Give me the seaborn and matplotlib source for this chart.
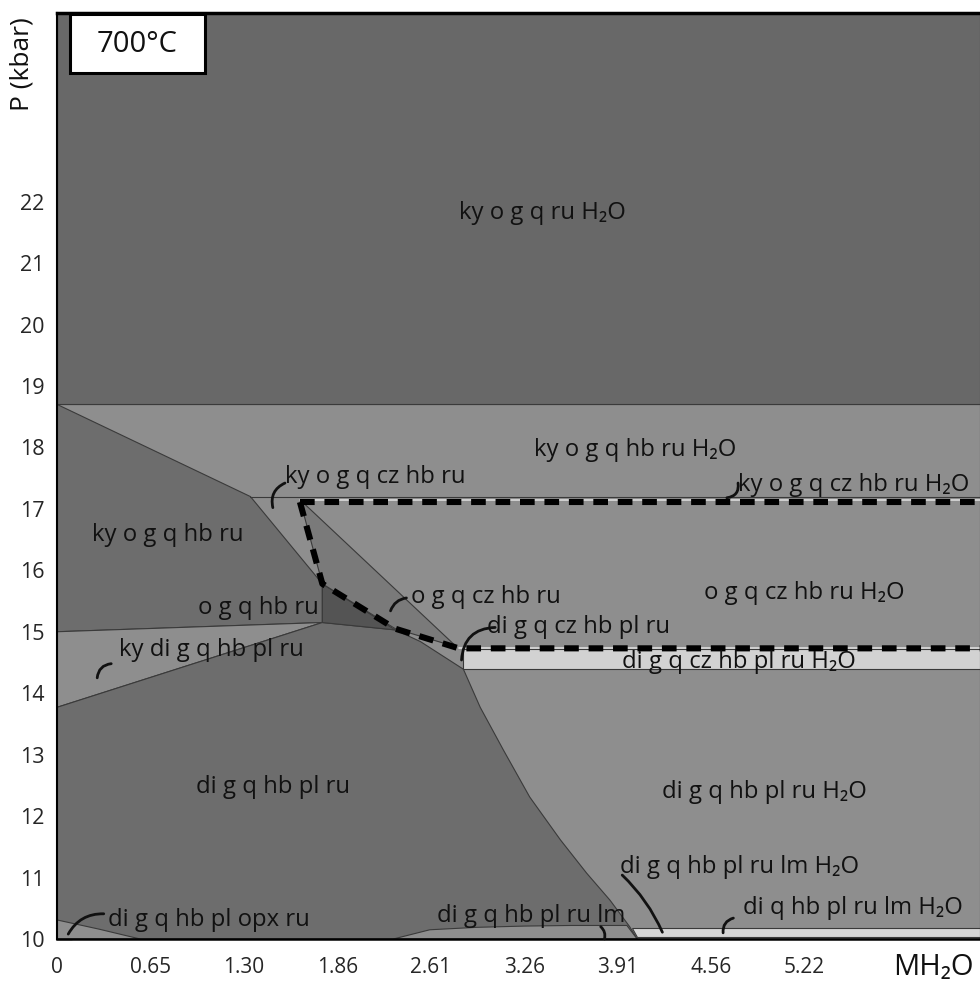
import numpy as np
import pandas as pd
import matplotlib
matplotlib.use("Agg")
import matplotlib.pyplot as plt
from matplotlib.patches import Rectangle
import seaborn as sns

# ---------------- data (x in tick-index units, P in kbar) ----------------
x_tick_pos = [0, 1, 2, 3, 4, 5, 6, 7, 8, 9]
x_tick_labels = ["0", "0.65", "1.30", "1.86", "2.61", "3.26", "3.91", "4.56", "5.22", ""]
y_tick_pos = [10, 11, 12, 13, 14, 15, 16, 17, 18, 19, 20, 21, 22, 23, 24]
y_tick_labels = ["10", "11", "12", "13", "14", "15", "16", "17", "18", "19", "20", "21", "22", "", ""]
X_MAX = 9.88
P_MIN, P_MAX = 10.0, 25.07

# phase-field polygons
field_light_x = [0, X_MAX, X_MAX, 0]
field_light_p = [10.0, 10.0, 18.7, 18.7]
field_top_x = [0, X_MAX, X_MAX, 0]
field_top_p = [18.7, 18.7, P_MAX, P_MAX]
field_kyoghb_x = [0, 2.07, 2.84, 2.84, 0]
field_kyoghb_p = [18.7, 17.2, 15.78, 15.15, 15.0]
field_kydi_x = [0, 2.84, 0]
field_kydi_p = [15.0, 15.15, 13.77]
field_digq_x = [0, 2.84, 3.62, 3.89, 4.35, 4.53, 4.78, 5.06, 5.39, 5.67, 5.92, 6.13, 6.21, 0]
field_digq_p = [13.77, 15.15, 15.03, 14.84, 14.39, 13.77, 13.07, 12.31, 11.61, 11.07, 10.63, 10.2, 10.0, 10.0]
field_tri_x = [2.84, 2.84, 3.62]
field_tri_p = [15.78, 15.15, 15.03]
field_ogqcz_x = [2.60, 4.28, 3.62, 2.84]
field_ogqcz_p = [17.15, 14.75, 15.05, 15.78]
field_czstrip_x = [4.35, X_MAX, X_MAX, 4.35]
field_czstrip_p = [14.39, 14.39, 14.72, 14.72]
field_opx_x = [0, 0, 0.45, 0.89]
field_opx_p = [10.0, 10.31, 10.16, 10.0]
field_lm_x = [3.6, 3.99, 4.5, 5.0, 5.5, 6.1, 6.21]
field_lm_p = [10.0, 10.15, 10.19, 10.21, 10.22, 10.22, 10.0]
field_lmstrip_x = [6.21, X_MAX, X_MAX, 6.16]
field_lmstrip_p = [10.03, 10.03, 10.18, 10.18]

# reaction lines
line_172_x = [2.07, X_MAX]
line_172_p = [17.2, 17.2]
dash_x = [2.60, 2.84, 3.62, 4.30, X_MAX]
dash_p = [17.11, 15.78, 15.05, 14.73, 14.73]
dash_top_x = [2.60, X_MAX]
dash_top_p = [17.11, 17.11]

# labels
label_text = ["ky o g q ru H₂O", "ky o g q hb ru H₂O", "ky o g q cz hb ru",
              "ky o g q cz hb ru H₂O", "ky o g q hb ru", "o g q cz hb ru",
              "o g q cz hb ru H₂O", "o g q hb ru", "di g q cz hb pl ru",
              "ky di g q hb pl ru", "di g q cz hb pl ru H₂O", "di g q hb pl ru",
              "di g q hb pl ru H₂O", "di g q hb pl ru lm H₂O", "di q hb pl ru lm H₂O",
              "di g q hb pl opx ru", "di g q hb pl ru lm"]
label_x = [5.20, 6.19, 3.41, 8.53, 1.18, 4.59, 8.00, 2.15, 5.58,
           1.65, 7.30, 2.31, 7.57, 7.31, 8.52, 1.63, 5.08]
label_p = [21.81, 17.96, 17.52, 17.39, 16.58, 15.57, 15.63, 15.39, 15.08,
           14.71, 14.51, 12.47, 12.40, 11.17, 10.50, 10.31, 10.38]

# leader curves
leader_x0 = [2.31, 7.17, 3.57, 4.33, 0.43, 0.12, 5.86, 6.48, 7.13]
leader_p0 = [17.02, 17.18, 15.34, 14.54, 14.25, 10.08, 10.00, 10.11, 10.10]
leader_x1 = [2.44, 7.29, 3.74, 4.69, 0.58, 0.50, 5.82, 6.05, 7.24]
leader_p1 = [17.42, 17.42, 15.55, 15.07, 14.48, 10.41, 10.20, 11.04, 10.34]
leader_rad = [-0.4, 0.5, -0.3, -0.45, -0.4, -0.3, 0.3, 0.1, -0.4]

# ---------------- figure ----------------
sns.set_theme(style="white")
plt.rcParams['font.family'] = ['Open Sans', 'DejaVu Sans']

fig = plt.figure(figsize=(9.8, 9.82), dpi=100)
ax = fig.add_axes([0.0582, 0.0438, 0.9418, 0.943])
ax.set_xlim(0, X_MAX)
ax.set_ylim(P_MIN, P_MAX)

edge = "#3a3a3a"
fields = [
    (field_light_x, field_light_p, "#8e8e8e"),
    (field_top_x, field_top_p, "#686868"),
    (field_kyoghb_x, field_kyoghb_p, "#6d6d6d"),
    (field_kydi_x, field_kydi_p, "#8e8e8e"),
    (field_digq_x, field_digq_p, "#6d6d6d"),
    (field_tri_x, field_tri_p, "#545454"),
    (field_ogqcz_x, field_ogqcz_p, "#7a7a7a"),
    (field_czstrip_x, field_czstrip_p, "#d2d2d2"),
    (field_opx_x, field_opx_p, "#8e8e8e"),
    (field_lm_x, field_lm_p, "#8e8e8e"),
    (field_lmstrip_x, field_lmstrip_p, "#d6d6d6"),
]
for fx, fp, col in fields:
    ax.fill(fx, fp, facecolor=col, edgecolor=edge, linewidth=0.8, zorder=1)

sns.lineplot(x=line_172_x, y=line_172_p, sort=False, estimator=None, ax=ax,
             color=edge, linewidth=0.8, zorder=2)
sns.lineplot(x=dash_top_x, y=[v + 0.035 for v in dash_top_p], sort=False, estimator=None,
             ax=ax, color="#dcdcdc", linewidth=1.2, zorder=2)
sns.lineplot(x=dash_x[3:], y=dash_p[3:], sort=False, estimator=None,
             ax=ax, color="#dcdcdc", linewidth=1.2, zorder=2)
sns.lineplot(x=dash_top_x, y=dash_top_p, sort=False, estimator=None, ax=ax,
             color="black", linewidth=4.4, linestyle=(0, (2.4, 1.6)), zorder=3)
sns.lineplot(x=dash_x, y=dash_p, sort=False, estimator=None, ax=ax,
             color="black", linewidth=4.4, linestyle=(0, (2.4, 1.6)), zorder=3)

for t, x, p in zip(label_text, label_x, label_p):
    ax.text(x, p, t, ha="center", va="center", fontsize=17.2, color="#111111", zorder=5)

for x0, p0, x1, p1, r in zip(leader_x0, leader_p0, leader_x1, leader_p1, leader_rad):
    ax.annotate("", xy=(x1, p1), xytext=(x0, p0),
                arrowprops=dict(arrowstyle="-", color="#111111", lw=2.0,
                                connectionstyle=f"arc3,rad={r}",
                                shrinkA=0, shrinkB=0), zorder=5)

# temperature box
fig.patches.append(Rectangle((70 / 980, 1 - 73 / 982), 135 / 980, 59 / 982,
                             transform=fig.transFigure, facecolor="white",
                             edgecolor="black", linewidth=2.2, zorder=10))
fig.text(137.5 / 980, 1 - 44 / 982, "700°C", ha="center", va="center",
         fontsize=21, color="#111111", zorder=11)

# axes styling
ax.set_xticks(x_tick_pos)
ax.set_xticklabels(x_tick_labels)
ax.set_yticks(y_tick_pos)
ax.set_yticklabels(y_tick_labels)
ax.tick_params(axis="y", direction="in", length=11, width=1, color="#333333",
               labelsize=15.5, pad=9, left=True)
ax.tick_params(axis="x", direction="in", length=8, width=1, color="#333333",
               labelsize=15, pad=13, bottom=True)
for s in ["left", "bottom", "top"]:
    ax.spines[s].set_visible(True)
    ax.spines[s].set_color("black")
ax.spines["left"].set_linewidth(1.5)
ax.spines["bottom"].set_linewidth(1.8)
ax.spines["top"].set_linewidth(2.5)
ax.spines["right"].set_visible(False)

fig.text(9.38 / X_MAX * 0.9418 + 0.0582, 0.0145, "MH₂O", ha="center", va="center",
         fontsize=21, color="#111111")
fig.text(0.022, 0.935, "P (kbar)", rotation=90, ha="center", va="center",
         fontsize=19, color="#111111")

fig.savefig("out.png", dpi=100)
